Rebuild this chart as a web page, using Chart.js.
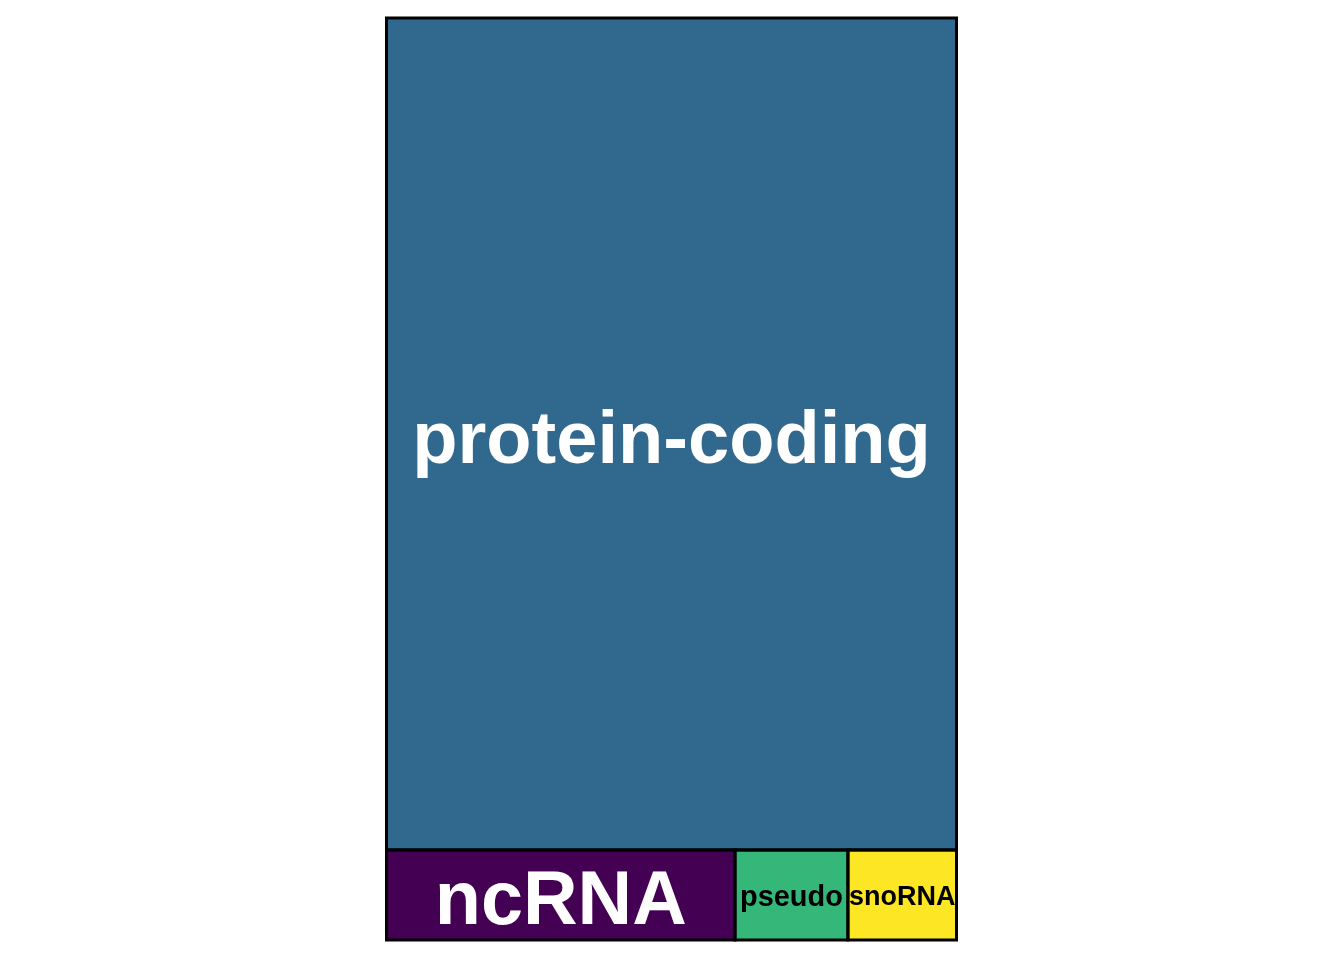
<!DOCTYPE html>
<html>
<head>
<meta charset="utf-8">
<script src="https://cdn.jsdelivr.net/npm/chart.js@4.4.1/dist/chart.umd.min.js"></script>
<style>
  html, body { margin: 0; padding: 0; background: #ffffff; }
  #wrap { width: 1344px; height: 960px; }
</style>
</head>
<body>
<div id="wrap"><canvas id="treemap"></canvas></div>
<script>
const geneTypes = ['protein-coding', 'ncRNA', 'pseudo', 'snoRNA'];
const geneCounts = [18048, 1194, 387, 372];
const tileColors = ['#31688E', '#440154', '#35B779', '#FDE725'];
const labelColors = ['#ffffff', '#ffffff', '#000000', '#000000'];

function worst(row, side) {
    let s = 0, mx = -Infinity, mn = Infinity;
    row.forEach(function (a) { s += a; mx = Math.max(mx, a); mn = Math.min(mn, a); });
    return Math.max(side * side * mx / (s * s), (s * s) / (side * side * mn));
}

// squarified layout, in a box of w x h, returns rects as fractions of the box
function squarify(values, w, h) {
    const total = values.reduce(function (a, b) { return a + b; }, 0);
    const areas = values.map(function (v) { return v / total * w * h; });
    const out = [];
    let r = { x: 0, y: 0, w: w, h: h };
    let i = 0;
    while (i < areas.length) {
        const side = Math.min(r.w, r.h);
        let row = [areas[i]];
        let j = i + 1;
        while (j < areas.length && worst(row.concat([areas[j]]), side) <= worst(row, side)) {
            row.push(areas[j]);
            j++;
        }
        const s = row.reduce(function (a, b) { return a + b; }, 0);
        if (r.w >= r.h) {
            const cw = s / r.h;
            let yy = r.y;
            row.forEach(function (a) {
                const hh = a / cw;
                out.push({ x0: r.x, x1: r.x + cw, y0: yy, y1: yy + hh });
                yy += hh;
            });
            r = { x: r.x + cw, y: r.y, w: r.w - cw, h: r.h };
        } else {
            const rh = s / r.w;
            let xx = r.x;
            row.forEach(function (a) {
                const ww = a / rh;
                out.push({ x0: xx, x1: xx + ww, y0: r.y, y1: r.y + rh });
                xx += ww;
            });
            r = { x: r.x, y: r.y + rh, w: r.w, h: r.h - rh };
        }
        i = j;
    }
    return out.map(function (t) {
        return { x0: t.x0 / w, x1: t.x1 / w, y0: t.y0 / h, y1: t.y1 / h };
    });
}

const treemapPlugin = {
    id: 'treemapTiles',
    afterDatasetsDraw: function (chart) {
        const ctx = chart.ctx;
        const xs = chart.scales.x, ys = chart.scales.y;
        const area = chart.chartArea;
        const tiles = squarify(geneCounts, area.right - area.left, area.bottom - area.top);
        const rects = tiles.map(function (t) {
            const l = xs.getPixelForValue(t.x0), r = xs.getPixelForValue(t.x1);
            const tp = ys.getPixelForValue(t.y0), b = ys.getPixelForValue(t.y1);
            return { l: l, t: tp, w: r - l, h: b - tp };
        });
        ctx.save();
        rects.forEach(function (rc, i) {
            ctx.fillStyle = tileColors[i];
            ctx.fillRect(rc.l, rc.t, rc.w, rc.h);
        });
        ctx.lineWidth = 3;
        ctx.strokeStyle = '#000000';
        rects.forEach(function (rc) {
            ctx.strokeRect(rc.l, rc.t, rc.w, rc.h);
        });
        ctx.textAlign = 'center';
        ctx.textBaseline = 'middle';
        rects.forEach(function (rc, i) {
            ctx.font = 'bold 100px "Liberation Sans", Arial, sans-serif';
            const em = ctx.measureText(geneTypes[i]).width / 100;
            let size = Math.min(0.91 * rc.w / em, 0.84 * rc.h);
            size = Math.max(size, 27);
            ctx.font = 'bold ' + size.toFixed(1) + 'px "Liberation Sans", Arial, sans-serif';
            ctx.fillStyle = labelColors[i];
            ctx.fillText(geneTypes[i], rc.l + rc.w / 2, rc.t + rc.h / 2 + size * 0.11);
        });
        ctx.restore();
    }
};

new Chart(document.getElementById('treemap'), {
    type: 'scatter',
    data: {
        datasets: [{ label: 'genes', data: [] }]
    },
    options: {
        responsive: true,
        maintainAspectRatio: false,
        animation: false,
        layout: {
            padding: { left: 386.5, right: 387.5, top: 18, bottom: 20 }
        },
        scales: {
            x: { type: 'linear', min: 0, max: 1, display: false },
            y: { type: 'linear', min: 0, max: 1, reverse: true, display: false }
        },
        plugins: {
            legend: { display: false },
            tooltip: { enabled: false }
        }
    },
    plugins: [treemapPlugin]
});
</script>
</body>
</html>
